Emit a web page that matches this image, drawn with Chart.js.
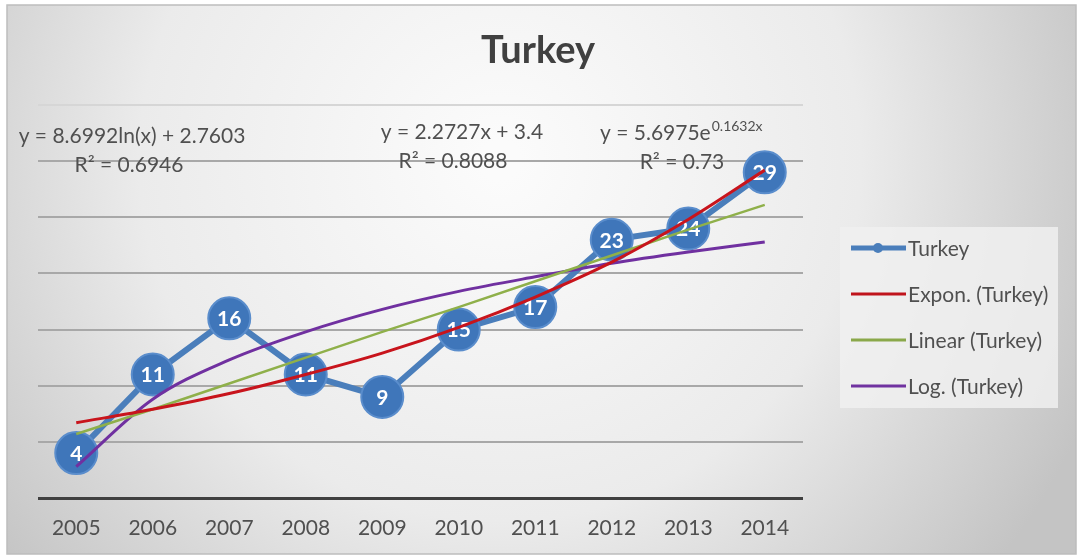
<!DOCTYPE html>
<html>
<head>
<meta charset="utf-8">
<script src="https://cdn.jsdelivr.net/npm/chart.js@4.4.1/dist/chart.umd.min.js"></script>
<style>
html,body{margin:0;padding:0;background:#fff}
#wrap{width:1078px;height:556px;position:relative}
</style>
</head>
<body>
<div id="wrap"><canvas id="grafica"></canvas></div>
<script>

/* DATOS */

const years=["2005","2006","2007","2008","2009","2010","2011","2012","2013","2014"]
const turkey=[4,11,16,11,9,15,17,23,24,29]
const expon=[6.7,7.9,9.3,11.0,12.9,15.2,17.9,21.0,24.8,29.2]
const linear=[5.7,7.9,10.2,12.5,14.8,17.0,19.3,21.6,23.9,26.1]
const logar=[2.8,8.8,12.3,14.8,16.8,18.4,19.7,20.9,21.9,22.8]

const legendNames=["Turkey","Expon. (Turkey)","Linear (Turkey)","Log. (Turkey)"]

const FONT="Lato, 'Open Sans', sans-serif"
const TXT="#505050"

/* FONDO */

const fondo={
id:"fondo",
beforeDraw(chart){
const c=chart.ctx
const w=chart.width,h=chart.height
c.save()
c.fillStyle="#ffffff"
c.fillRect(0,0,w,h)
const g=c.createRadialGradient(500,160,20,500,160,640)
g.addColorStop(0,"#fbfbfb")
g.addColorStop(0.55,"#ebebeb")
g.addColorStop(1,"#c4c4c4")
c.fillStyle=g
c.fillRect(7,5,w-9,h-7)
c.strokeStyle="#bdbdbd"
c.lineWidth=1.5
c.strokeRect(7,5,w-9,h-7)
c.restore()
}
}

/* ETIQUETAS DE DATOS */

const etiquetas={
id:"etiquetas",
afterDatasetDraw(chart,args){
if(args.index!==0) return
const c=chart.ctx
c.save()
c.fillStyle="#ffffff"
c.font="bold 21px "+FONT
c.textAlign="center"
c.textBaseline="middle"
args.meta.data.forEach((p,i)=>{
c.fillText(String(turkey[i]),p.x,p.y+1)
})
c.restore()
}
}

/* TITULO, ECUACIONES Y LEYENDA */

const extras={
id:"extras",
afterDraw(chart){
const c=chart.ctx
c.save()

c.fillStyle="#404040"
c.font="bold 38px "+FONT
c.textAlign="center"
c.textBaseline="middle"
c.fillText("Turkey",538,51)

c.fillStyle=TXT
c.font="21px "+FONT
c.fillText("y = 8.6992ln(x) + 2.7603",132,136)
c.fillText("R² = 0.6946",129,165)
c.fillText("y = 2.2727x + 3.4",462,132)
c.fillText("R² = 0.8088",453,161)

c.textAlign="left"
const base="y = 5.6975e"
c.fillText(base,600,133)
const bw=c.measureText(base).width
c.font="14px "+FONT
c.fillText("0.1632x",600+bw+1,126)
c.font="21px "+FONT
c.textAlign="center"
c.fillText("R² = 0.73",682,162)

/* leyenda */
c.fillStyle="rgba(240,240,240,0.85)"
c.fillRect(840,227,218,181)
const colores=["#4a7ebb","#c0141c","#8aa84a","#7032a0"]
const ys=[248,294,340,386]
c.textAlign="left"
c.textBaseline="middle"
c.font="21px "+FONT
legendNames.forEach((n,i)=>{
c.strokeStyle=colores[i]
c.lineWidth=i===0?5:3
c.beginPath()
c.moveTo(851,ys[i])
c.lineTo(906,ys[i])
c.stroke()
if(i===0){
c.fillStyle=colores[0]
c.beginPath()
c.arc(878,ys[i],5,0,Math.PI*2)
c.fill()
}
c.fillStyle=TXT
c.fillText(n,908,ys[i]+1)
})

c.restore()
}
}

/* GRAFICA */

new Chart(document.getElementById("grafica"),{

type:"line",

data:{
labels:years,
datasets:[
{
label:"Turkey",
data:turkey,
borderColor:"#4a7ebb",
borderWidth:6,
backgroundColor:"#3f76ba",
pointBackgroundColor:"#3f76ba",
pointBorderColor:"#5a8dcc",
pointBorderWidth:2,
pointRadius:21,
pointHoverRadius:21,
tension:0,
order:10
},
{
label:"Expon. (Turkey)",
data:expon,
borderColor:"#c8141c",
borderWidth:3,
pointRadius:0,
cubicInterpolationMode:"monotone",
order:1
},
{
label:"Linear (Turkey)",
data:linear,
borderColor:"#8fb04a",
borderWidth:2.5,
pointRadius:0,
order:2
},
{
label:"Log. (Turkey)",
data:logar,
borderColor:"#7030a0",
borderWidth:3,
pointRadius:0,
cubicInterpolationMode:"monotone",
order:3
}
]
},

options:{
responsive:true,
maintainAspectRatio:false,
animation:false,
layout:{padding:{left:38,right:275,top:105,bottom:0}},
plugins:{legend:{display:false},title:{display:false},tooltip:{enabled:false}},
scales:{
x:{
offset:true,
grid:{display:false,drawTicks:false,offset:true},
border:{display:false},
ticks:{color:TXT,font:{family:FONT,size:21},padding:18,maxRotation:0},
afterFit:s=>{s.height=58}
},
y:{
min:0,max:35,
ticks:{display:false,stepSize:5},
border:{display:false},
grid:{
drawTicks:false,
color:ctx=>ctx.tick.value===0?"#404040":(ctx.tick.value===35?"#d6d6d6":"#a8a8a8"),
lineWidth:ctx=>ctx.tick.value===0?3:2
},
afterFit:s=>{s.width=0}
}
}
},

plugins:[fondo,etiquetas,extras]

})

</script>
</body>
</html>
